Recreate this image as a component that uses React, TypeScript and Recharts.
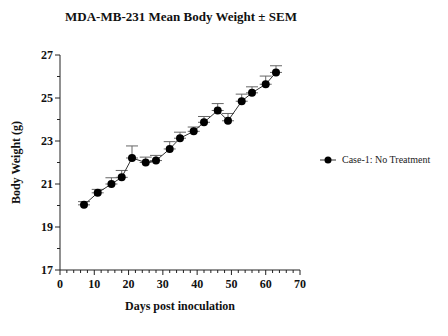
import { ErrorBar, Line, LineChart, XAxis, YAxis } from "recharts";

const days = [7, 11, 15, 18, 21, 25, 28, 32, 35, 39, 42, 46, 49, 53, 56, 60, 63];
const meanWeight = [
  20.03, 20.59, 21.0, 21.31, 22.21, 22.0, 22.09, 22.63, 23.13, 23.45, 23.87,
  24.42, 23.94, 24.85, 25.24, 25.64, 26.19,
];
const sem = [
  0.15, 0.16, 0.29, 0.32, 0.56, 0.25, 0.24, 0.34, 0.28, 0.2, 0.27, 0.32, 0.34,
  0.33, 0.28, 0.38, 0.31,
];

const xTicks = [
  0, 2, 4, 6, 8, 10, 12, 14, 16, 18, 20, 22, 24, 26, 28, 30, 32, 34, 36, 38, 40,
  42, 44, 46, 48, 50, 52, 54, 56, 58, 60, 62, 64, 66, 68, 70,
];
const xLabels = [0, 10, 20, 30, 40, 50, 60, 70];
const yTicks = [17, 18, 19, 20, 21, 22, 23, 24, 25, 26, 27];
const yLabels = [17, 19, 21, 23, 25, 27];

const data = days.map((d, i) => ({ day: d, weight: meanWeight[i], err: [0, sem[i]] }));

const FONT = "Liberation Serif, DejaVu Serif, serif";
const AXIS = "#222";

const XTick = ({ x, y, payload }: any) => {
  const major = xLabels.includes(payload.value);
  return (
    <g>
      <line x1={x} x2={x} y1={y} y2={y + (major ? 5 : 3)} stroke={AXIS} strokeWidth={1} />
      {major && (
        <text x={x} y={y + 18} textAnchor="middle" style={{ fontFamily: FONT }} fontWeight={700} fontSize={12} fill="#111">
          {payload.value}
        </text>
      )}
    </g>
  );
};

const YTick = ({ x, y, payload }: any) => {
  const major = yLabels.includes(payload.value);
  return (
    <g>
      <line x1={x - (major ? 5 : 3)} x2={x} y1={y} y2={y} stroke={AXIS} strokeWidth={1} />
      {major && (
        <text x={x - 7} y={y + 4} textAnchor="end" style={{ fontFamily: FONT }} fontWeight={700} fontSize={12} fill="#111">
          {payload.value}
        </text>
      )}
    </g>
  );
};

export default function App() {
  return (
    <div style={{ position: "absolute", left: 0, top: 0, width: 448, height: 336, background: "#fff", fontFamily: FONT }}>
      <div
        style={{
          position: "absolute",
          left: 0,
          top: 10,
          width: 362,
          textAlign: "center",
          fontWeight: 700,
          fontSize: 13,
          lineHeight: "13px",
          color: "#111",
        }}
      >
        MDA-MB-231 Mean Body Weight ± SEM
      </div>
      <LineChart
        width={448}
        height={336}
        data={data}
        margin={{ top: 55, right: 148, left: 0, bottom: 0 }}
        style={{ fontFamily: FONT }}
      >
        <XAxis
          dataKey="day"
          type="number"
          domain={[0, 70]}
          ticks={xTicks}
          interval={0}
          height={66}
          tickSize={0}
          tickMargin={0}
          tickLine={false}
          tick={<XTick />}
          axisLine={{ stroke: AXIS }}
          label={{
            value: "Days post inoculation",
            position: "insideBottom",
            offset: 26,
            style: { fontFamily: FONT, fontWeight: 700, fontSize: 12, fill: "#111" },
          }}
        />
        <YAxis
          type="number"
          domain={[17, 27]}
          allowDataOverflow
          ticks={yTicks}
          interval={0}
          width={60}
          tickSize={0}
          tickMargin={0}
          tickLine={false}
          tick={<YTick />}
          axisLine={{ stroke: AXIS }}
          label={{
            value: "Body Weight (g)",
            angle: -90,
            position: "insideLeft",
            offset: 16,
            style: { textAnchor: "middle", fontFamily: FONT, fontWeight: 700, fontSize: 12, fill: "#111" },
          }}
        />
        <Line
          dataKey="weight"
          stroke="#333"
          strokeWidth={1}
          dot={{ r: 4, fill: "#000", stroke: "#000", strokeWidth: 0 }}
          isAnimationActive={false}
        >
          <ErrorBar dataKey="err" width={6} stroke="#666" strokeWidth={1} direction="y" />
        </Line>
      </LineChart>
      <div
        style={{
          position: "absolute",
          left: 320,
          top: 154,
          display: "flex",
          alignItems: "center",
          fontSize: 10,
          color: "#222",
          whiteSpace: "nowrap",
        }}
      >
        <svg width={16} height={10} style={{ marginRight: 6 }}>
          <line x1={0} x2={16} y1={5} y2={5} stroke="#333" strokeWidth={1} />
          <circle cx={8} cy={5} r={3.5} fill="#000" />
        </svg>
        <span>Case-1: No Treatment</span>
      </div>
    </div>
  );
}
